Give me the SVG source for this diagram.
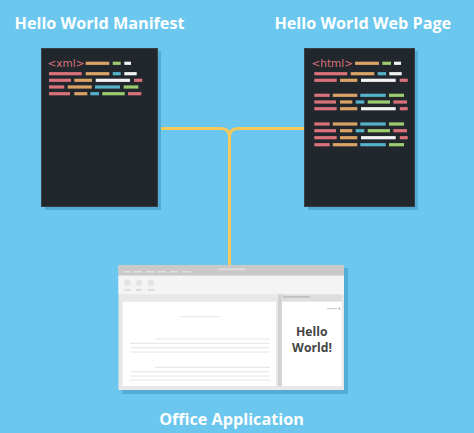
<svg xmlns="http://www.w3.org/2000/svg" width="474" height="433" viewBox="0 0 474 433">
<style>
.title{font-family:"Open Sans","Noto Sans",sans-serif;font-weight:bold;font-size:16.2px;fill:#ffffff;text-anchor:middle}
.panel{fill:#22262d;stroke:#3a3f48;stroke-width:1}
.shadow{fill:#52acd6}
.tag{font-family:"DejaVu Sans","Noto Sans",sans-serif;font-size:10.5px;fill:#d9727b}
.p{fill:#d9727b}.t{fill:#d9a366}.c{fill:#55b3c9}.g{fill:#9ccc6f}.w{fill:#f2f2f2}
.conn{fill:none;stroke:#f5c95c;stroke-width:3;stroke-linecap:round}
.hw{font-family:"Open Sans","Noto Sans",sans-serif;font-weight:bold;font-size:12.2px;fill:#444444;text-anchor:middle}
.dl{stroke:#e4e4e4;stroke-width:1}
</style>
<rect width="474" height="433" fill="#6bc7ee"/>

<g id="connectors">
<path class="conn" d="M158 128.5 H221 Q229.5 128.5 229.5 137 V266"/>
<path class="conn" d="M304 128.5 H238 Q229.5 128.5 229.5 137"/>
</g>

<g id="manifest">
<rect class="shadow" x="45" y="51" width="116" height="159"/>
<rect class="panel" x="41.5" y="48.5" width="116" height="158"/>
<text class="tag" x="47.5" y="67">&lt;xml&gt;</text>
<g>
<rect class="t" x="85.7" y="61.7" width="23.6" height="3.2"/><rect class="g" x="112.7" y="61.7" width="8" height="3.2"/><rect class="w" x="124.3" y="61.7" width="6.7" height="3.2"/>
<rect class="p" x="49" y="72.1" width="32.7" height="3.2"/><rect class="t" x="85.7" y="72.1" width="23.6" height="3.2"/><rect class="c" x="112.7" y="72.1" width="8" height="3.2"/><rect class="w" x="124.3" y="72.1" width="12.4" height="3.2"/>
<rect class="p" x="49" y="78.7" width="22" height="3.2"/><rect class="t" x="74.3" y="78.7" width="17.7" height="3.2"/><rect class="w" x="95.7" y="78.7" width="34.3" height="3.2"/><rect class="p" x="134" y="78.7" width="8.3" height="3.2"/>
<rect class="p" x="49" y="85.4" width="15.3" height="3.2"/><rect class="t" x="67.7" y="85.4" width="24" height="3.2"/><rect class="c" x="95" y="85.4" width="25" height="3.2"/><rect class="g" x="123.7" y="85.4" width="14.6" height="3.2"/>
<rect class="p" x="49" y="92.1" width="21" height="3.2"/><rect class="t" x="74.3" y="92.1" width="13" height="3.2"/><rect class="c" x="90.3" y="92.1" width="8.7" height="3.2"/><rect class="g" x="102.3" y="92.1" width="22.4" height="3.2"/><rect class="p" x="128" y="92.1" width="13.3" height="3.2"/>
</g>
</g>

<g id="webpage">
<rect class="shadow" x="308" y="51" width="110" height="159"/>
<rect class="panel" x="304.5" y="48.5" width="110" height="158"/>
<text class="tag" x="311.5" y="67">&lt;html&gt;</text>
<rect class="t" x="355" y="61.7" width="24" height="3.2"/><rect class="g" x="382.3" y="61.7" width="8.7" height="3.2"/><rect class="w" x="394" y="61.7" width="7" height="3.2"/>
<rect class="p" x="314.3" y="72.1" width="33" height="3.2"/><rect class="t" x="350.7" y="72.1" width="23.6" height="3.2"/><rect class="c" x="377.7" y="72.1" width="8.3" height="3.2"/><rect class="w" x="389.3" y="72.1" width="12.4" height="3.2"/>
<rect class="p" x="314.3" y="78.7" width="22.4" height="3.2"/><rect class="t" x="340" y="78.7" width="17.3" height="3.2"/><rect class="w" x="361" y="78.7" width="34.7" height="3.2"/><rect class="p" x="399.7" y="78.7" width="8" height="3.2"/>

<rect class="p" x="314.3" y="93.7" width="15.4" height="3.2"/><rect class="t" x="332.7" y="93.7" width="24.6" height="3.2"/><rect class="c" x="360.3" y="93.7" width="25.4" height="3.2"/><rect class="g" x="389" y="93.7" width="15" height="3.2"/>
<rect class="p" x="314.3" y="100.4" width="21.7" height="3.2"/><rect class="t" x="340" y="100.4" width="12.3" height="3.2"/><rect class="c" x="355.7" y="100.4" width="8.6" height="3.2"/><rect class="g" x="367.7" y="100.4" width="22.3" height="3.2"/><rect class="p" x="393.3" y="100.4" width="13.7" height="3.2"/>
<rect class="p" x="314.3" y="107.1" width="22.4" height="3.2"/><rect class="t" x="340" y="107.1" width="17.3" height="3.2"/><rect class="w" x="361" y="107.1" width="34.7" height="3.2"/><rect class="p" x="399.7" y="107.1" width="8" height="3.2"/>

<rect class="p" x="314.3" y="122.4" width="15.4" height="3.2"/><rect class="t" x="332.7" y="122.4" width="24.6" height="3.2"/><rect class="c" x="360.3" y="122.4" width="25.4" height="3.2"/><rect class="g" x="389" y="122.4" width="15" height="3.2"/>
<rect class="p" x="314.3" y="129.1" width="21.7" height="3.2"/><rect class="t" x="340" y="129.1" width="12.3" height="3.2"/><rect class="c" x="355.7" y="129.1" width="8.6" height="3.2"/><rect class="g" x="367.7" y="129.1" width="22.3" height="3.2"/><rect class="p" x="393.3" y="129.1" width="13.7" height="3.2"/>
<rect class="p" x="314.3" y="136.1" width="22.4" height="3.2"/><rect class="t" x="340" y="136.1" width="17.3" height="3.2"/><rect class="w" x="361" y="136.1" width="34.7" height="3.2"/><rect class="p" x="399.7" y="136.1" width="8" height="3.2"/>
<rect class="p" x="314.3" y="143.1" width="15.4" height="3.2"/><rect class="t" x="332.7" y="143.1" width="24.6" height="3.2"/><rect class="c" x="360.3" y="143.1" width="25.4" height="3.2"/><rect class="g" x="389" y="143.1" width="15" height="3.2"/>
</g>

<g id="office">
<rect class="shadow" x="122" y="268" width="226" height="126"/>
<rect x="118.5" y="265" width="225.5" height="125" fill="#e8e8e8"/>
<rect x="118.5" y="265" width="225.5" height="10.7" fill="#c9c9c9"/>
<rect x="118.5" y="275.7" width="225.5" height="18.6" fill="#f4f4f4"/>
<g fill="#e0e0e0"><rect x="123" y="271" width="8" height="1.5"/><rect x="134" y="271" width="8" height="1.5"/><rect x="146" y="271" width="8" height="1.5"/><rect x="158" y="271" width="8" height="1.5"/><rect x="170" y="271" width="8" height="1.5"/><rect x="183" y="271" width="8" height="1.5"/><rect x="218" y="268.5" width="27" height="1.5"/></g>
<g fill="#e4e4e4"><circle cx="127.3" cy="282.7" r="3.3"/><circle cx="139" cy="282.7" r="3.3"/><circle cx="150.7" cy="282.7" r="3.3"/></g>
<g fill="#c4c4c4"><rect x="124.5" y="289.5" width="6" height="1"/><rect x="136" y="289.5" width="6" height="1"/><rect x="148" y="289.5" width="6" height="1"/></g>
<rect x="122.7" y="301.7" width="153.3" height="84.3" fill="#ffffff"/>
<rect x="278" y="294.3" width="3.7" height="92" fill="#d2d2d2"/>
<rect x="281.7" y="294.3" width="60" height="7.4" fill="#dedede"/>
<rect x="283" y="296.2" width="27" height="1.4" fill="#b8b8b8"/>
<rect x="282" y="301.7" width="59.7" height="84.3" fill="#ffffff"/>
<rect x="327" y="308" width="10" height="1.2" fill="#d0d0d0"/><rect x="338.5" y="307.7" width="1.8" height="1.8" fill="#b0b0b0"/>
<g class="dl">
<line x1="180" y1="316.7" x2="220" y2="316.7"/>
<line x1="155" y1="339" x2="270" y2="339"/>
<line x1="130" y1="343.3" x2="270" y2="343.3"/>
<line x1="130" y1="347.7" x2="270" y2="347.7"/>
<line x1="130" y1="352" x2="270" y2="352"/>
<line x1="155" y1="367.3" x2="270" y2="367.3"/>
<line x1="130" y1="371.7" x2="270" y2="371.7"/>
<line x1="130" y1="376" x2="270" y2="376"/>
<line x1="130" y1="380" x2="270" y2="380"/>
</g>
<text class="hw" x="311.7" y="336">Hello</text>
<text class="hw" x="312" y="352.3">World!</text>
</g>

<g id="labels">
<text class="title" x="99.5" y="28.5">Hello World Manifest</text>
<text class="title" x="362.8" y="28.5">Hello World Web Page</text>
<text class="title" x="231.5" y="424.5">Office Application</text>
</g>
</svg>
